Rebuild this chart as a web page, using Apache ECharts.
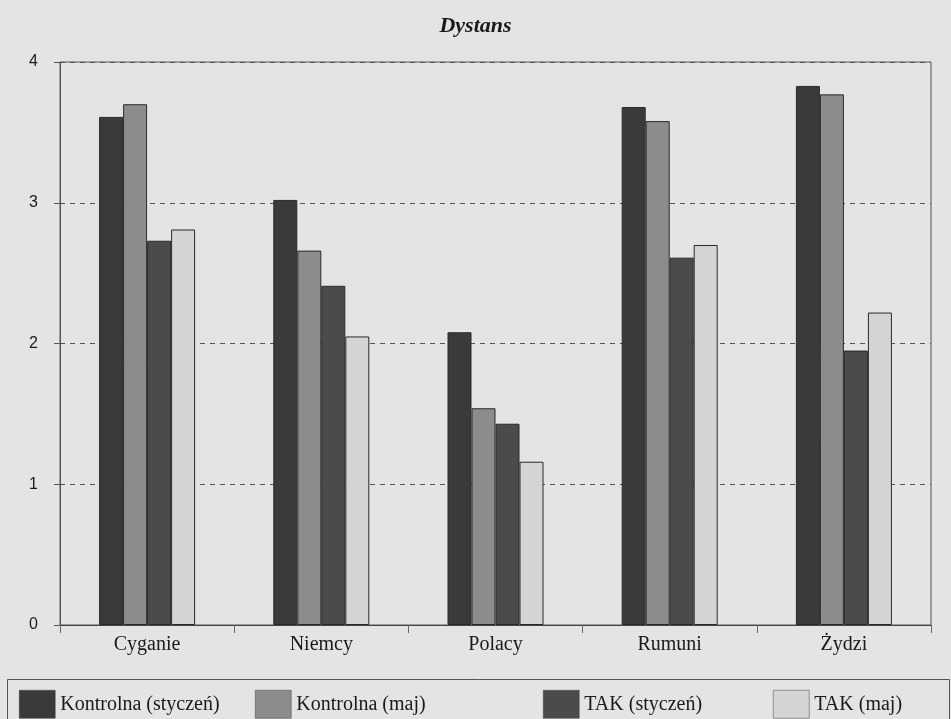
<!DOCTYPE html>
<html>
<head>
<meta charset="utf-8">
<script src="https://cdn.jsdelivr.net/npm/echarts@6/dist/echarts.min.js"></script>
<style>
  html, body { margin: 0; padding: 0; background: #e4e4e2; }
  #chart { width: 951px; height: 719px; }
</style>
</head>
<body>
<div id="chart"></div>
<script>
  // dane
  var categories = ['Cyganie', 'Niemcy', 'Polacy', 'Rumuni', 'Żydzi'];
  var seriesNames = ['Kontrolna (styczeń)', 'Kontrolna (maj)', 'TAK (styczeń)', 'TAK (maj)'];
  var kontrolnaStyczen = [3.61, 3.02, 2.08, 3.68, 3.83];
  var kontrolnaMaj = [3.70, 2.66, 1.54, 3.58, 3.77];
  var takStyczen = [2.73, 2.41, 1.43, 2.61, 1.95];
  var takMaj = [2.81, 2.05, 1.16, 2.70, 2.22];
  var yTicks = [0, 1, 2, 3, 4];

  var colors = ['#3a3a3a', '#8c8c8c', '#4c4a4a', '#d4d4d2'];
  var values = [kontrolnaStyczen, kontrolnaMaj, takStyczen, takMaj];

  var myChart = echarts.init(document.getElementById('chart'));

  var series = seriesNames.map(function (name, i) {
    return {
      name: name,
      type: 'bar',
      barWidth: 24,
      barGap: '0%',
      itemStyle: {
        color: colors[i],
        borderColor: '#2a2a2a',
        borderWidth: 1
      },
      data: values[i]
    };
  });

  // każda pozycja legendy osobno, żeby trafić w położenia z oryginału
  var legendLeft = [14, 250, 538, 768];
  var legends = seriesNames.map(function (name, i) {
    return {
      data: [name],
      left: legendLeft[i],
      top: 685,
      itemWidth: 36,
      itemHeight: 28,
      itemGap: 8,
      icon: 'rect',
      itemStyle: { borderColor: '#444', borderWidth: 0.5 },
      textStyle: { fontFamily: 'Liberation Serif', fontSize: 20, color: '#1a1a1a' },
      selectedMode: false
    };
  });

  var option = {
    backgroundColor: '#e4e4e2',
    animation: false,
    color: colors,
    title: {
      text: 'Dystans',
      left: 'center',
      top: 10,
      textStyle: {
        fontFamily: 'Liberation Serif',
        fontStyle: 'italic',
        fontWeight: 'bold',
        fontSize: 22,
        color: '#1a1a1a'
      }
    },
    legend: legends,
    grid: {
      left: 60,
      right: 20,
      top: 62,
      bottom: 94,
      show: true,
      borderColor: '#555',
      borderWidth: 1
    },
    xAxis: {
      type: 'category',
      data: categories,
      axisLine: { lineStyle: { color: '#444', width: 1 } },
      axisTick: { show: true, length: 8, inside: false, lineStyle: { color: '#666' } },
      axisLabel: {
        fontFamily: 'Liberation Serif',
        fontSize: 20,
        color: '#1a1a1a',
        margin: 10
      }
    },
    yAxis: {
      type: 'value',
      min: yTicks[0],
      max: yTicks[yTicks.length - 1],
      interval: 1,
      axisLine: { show: true, lineStyle: { color: '#555' } },
      axisTick: { show: true, length: 6, lineStyle: { color: '#555' } },
      axisLabel: {
        fontFamily: 'Liberation Sans',
        fontSize: 16,
        color: '#1a1a1a',
        margin: 22
      },
      splitLine: {
        show: true,
        lineStyle: { color: '#555', type: [5, 5], width: 1 }
      }
    },
    graphic: [
      {
        type: 'rect',
        left: 5,
        top: 677,
        shape: { width: 942, height: 46 },
        style: { fill: 'none', stroke: '#555', lineWidth: 1 },
        silent: true
      }
    ],
    series: series
  };
  myChart.setOption(option);
</script>
</body>
</html>
